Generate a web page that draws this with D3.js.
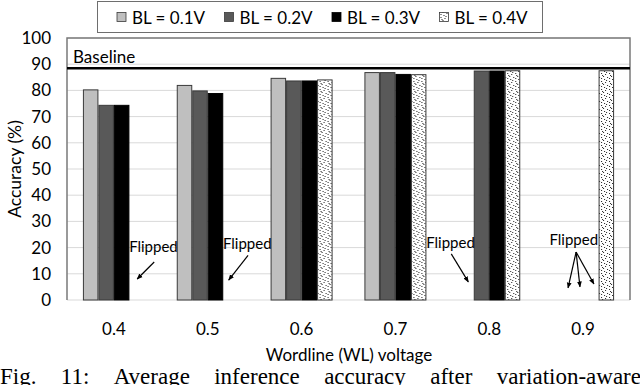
<!DOCTYPE html>
<html>
<head>
<meta charset="utf-8">
<script src="https://cdn.jsdelivr.net/npm/d3@7"></script>
<style>
  body { margin: 0; background: #fff; }
  svg { display: block; }
  text { font-family: Lato, "Noto Sans", sans-serif; fill: #000; }
</style>
</head>
<body>
<svg id="chart" width="640" height="385"></svg>
<script>
// data
var categories = ["0.4", "0.5", "0.6", "0.7", "0.8", "0.9"];
var seriesNames = ["BL = 0.1V", "BL = 0.2V", "BL = 0.3V", "BL = 0.4V"];
// null = flipped (no bar)
var bl01 = [80.2, 81.9, 84.6, 86.8, null, null];
var bl02 = [74.3, 79.8, 83.6, 86.8, 87.4, null];
var bl03 = [74.3, 78.8, 83.6, 86.1, 87.4, null];
var bl04 = [null, null, 84.0, 86.0, 87.5, 87.5];
var yTicks = [0, 10, 20, 30, 40, 50, 60, 70, 80, 90, 100];
var baselineValue = 88.5;

// "Flipped" notes: offsets are in bar widths from the group centre, y in %
var notes = [
  { cat: "0.4", tx: 2.55, ty: 20.2, arrows: [[2.6, 14.5, 1.5, 8.0]] },
  { cat: "0.5", tx: 2.55, ty: 21.4, arrows: [[2.6, 17.0, 1.35, 7.6]] },
  { cat: "0.8", tx: -2.5, ty: 21.8, arrows: [[-2.45, 17.6, -1.35, 6.9]] },
  { cat: "0.9", tx: -0.6, ty: 22.9, arrows: [[-0.45, 18.3, -0.97, 4.6], [-0.45, 18.3, -0.2, 5.0], [-0.45, 18.3, 0.7, 6.1]] }
];

var seriesValues = [bl01, bl02, bl03, bl04];
var fills = ["#bfbfbf", "#595959", "#000000", "url(#dots)"];
var strokes = ["#3a3a3a", "#3a3a3a", "#000000", "#3a3a3a"];

var svg = d3.select("#chart");
var pLeft = 67, pRight = 630, pTop = 38, pBottom = 300;

// dotted pattern for BL = 0.4V
var defs = svg.append("defs");
var pat = defs.append("pattern")
    .attr("id", "dots")
    .attr("patternUnits", "userSpaceOnUse")
    .attr("width", 8).attr("height", 8);
pat.append("rect").attr("width", 8).attr("height", 8).attr("fill", "#fff");
[[1,1],[5,2],[3,4],[7,5],[1,6],[4,7],[6,0],[2,3]].forEach(function(p){
  pat.append("rect").attr("x", p[0]).attr("y", p[1]).attr("width", 1).attr("height", 1).attr("fill", "#222");
});
defs.append("marker")
    .attr("id", "arrow")
    .attr("viewBox", "0 0 10 10")
    .attr("refX", 9).attr("refY", 5)
    .attr("markerWidth", 5).attr("markerHeight", 5)
    .attr("orient", "auto")
  .append("path").attr("d", "M0,1 L10,5 L0,9 z").attr("fill", "#000");

var x0 = d3.scaleBand().domain(categories).range([pLeft, pRight]).padding(0);
var groupW = 62;
var x1 = d3.scaleBand().domain(d3.range(seriesNames.length)).range([0, groupW]);
var y = d3.scaleLinear().domain([0, 100]).range([pBottom, pTop]);

// gridlines
svg.append("g").selectAll("line")
  .data(yTicks)
  .join("line")
    .attr("x1", pLeft).attr("x2", pRight)
    .attr("y1", d => y(d)).attr("y2", d => y(d))
    .attr("stroke", "#d9d9d9").attr("stroke-width", 1);

// bars
var groups = svg.append("g").selectAll("g")
  .data(categories)
  .join("g")
    .attr("transform", d => "translate(" + (x0(d) + (x0.bandwidth() - groupW) / 2) + ",0)");

groups.selectAll("rect")
  .data((c, ci) => seriesValues.map((s, si) => ({ si: si, v: s[ci] })).filter(d => d.v != null))
  .join("rect")
    .attr("x", d => x1(d.si) + 0.5)
    .attr("width", x1.bandwidth() - 1)
    .attr("y", d => y(d.v))
    .attr("height", d => y(0) - y(d.v))
    .attr("fill", d => fills[d.si])
    .attr("stroke", d => strokes[d.si])
    .attr("stroke-width", 1);

// plot frame (left, top, right)
svg.append("path")
  .attr("d", "M" + pLeft + "," + y(0) + "V" + y(100) + "H" + pRight + "V" + y(0))
  .attr("fill", "none").attr("stroke", "#7a7a7a").attr("stroke-width", 1.5);

// baseline
svg.append("line")
  .attr("x1", pLeft).attr("x2", pRight)
  .attr("y1", y(baselineValue)).attr("y2", y(baselineValue))
  .attr("stroke", "#000").attr("stroke-width", 2.5);
svg.append("text")
  .attr("x", pLeft + 6).attr("y", y(baselineValue) - 5)
  .style("font-size", "17px")
  .text("Baseline");

// y axis
var yAxis = d3.axisLeft(y).tickValues(yTicks).tickSize(0).tickPadding(16);
var ya = svg.append("g").attr("transform", "translate(" + pLeft + ",0)").call(yAxis);
ya.select(".domain").remove();
ya.selectAll("text").style("font-size", "17px").style("font-family", "Lato, 'Noto Sans', sans-serif");

// x axis
var xAxis = d3.axisBottom(x0).tickSize(0).tickPadding(23);
var xa = svg.append("g").attr("transform", "translate(0," + pBottom + ")").call(xAxis);
xa.select(".domain").remove();
xa.selectAll("text").style("font-size", "17px").style("font-family", "Lato, 'Noto Sans', sans-serif");

svg.append("text")
  .attr("x", 349).attr("y", 361)
  .attr("text-anchor", "middle")
  .style("font-size", "17px")
  .text("Wordline (WL) voltage");

svg.append("text")
  .attr("transform", "translate(21," + ((pTop + pBottom) / 2) + ") rotate(-90)")
  .attr("text-anchor", "middle")
  .style("font-size", "17.5px")
  .text("Accuracy (%)");

// "Flipped" annotations
var bw = x1.bandwidth();
notes.forEach(function(n){
  var cx = x0(n.cat) + x0.bandwidth() / 2;
  svg.append("text")
    .attr("x", cx + n.tx * bw).attr("y", y(n.ty) + 5)
    .attr("text-anchor", "middle")
    .style("font-size", "15px")
    .text("Flipped");
  n.arrows.forEach(function(a){
    svg.append("line")
      .attr("x1", cx + a[0] * bw).attr("y1", y(a[1]))
      .attr("x2", cx + a[2] * bw).attr("y2", y(a[3]))
      .attr("stroke", "#000").attr("stroke-width", 1.2)
      .attr("marker-end", "url(#arrow)");
  });
});

// legend
var legend = svg.append("g");
legend.append("rect")
  .attr("x", 97.5).attr("y", 1.5).attr("width", 445).attr("height", 31)
  .attr("fill", "#fff").attr("stroke", "#6e6e6e").attr("stroke-width", 1);
var items = legend.selectAll("g.item").data(seriesNames).join("g").attr("class", "item");
items.append("rect")
  .attr("width", 9).attr("height", 9).attr("y", 12.5)
  .attr("fill", (d, i) => fills[i]).attr("stroke", (d, i) => strokes[i]).attr("stroke-width", 0.8);
items.append("text")
  .attr("x", 15).attr("y", 23.5)
  .style("font-size", "17px")
  .text(d => d);
var widths = [];
items.each(function(){ widths.push(this.getBBox().width); });
var legStart = 117, legEnd = 528;
var gap = (legEnd - legStart - d3.sum(widths)) / (widths.length - 1);
var cur = legStart;
items.attr("transform", function(d, i){ var t = "translate(" + cur + ",0)"; cur += widths[i] + gap; return t; });

// caption (cut off at the bottom edge, as in the picture)
var words = ["Fig.", "11:", "Average", "inference", "accuracy", "after", "variation-aware"];
var cap = svg.append("g");
var wnodes = cap.selectAll("text").data(words).join("text")
  .attr("y", 384)
  .style("font-family", "'Liberation Serif', 'DejaVu Serif', serif")
  .style("font-size", "23px")
  .text(d => d);
var ww = [];
wnodes.each(function(){ ww.push(this.getComputedTextLength()); });
var spacing = (641 - d3.sum(ww)) / (words.length - 1);
var px = 0;
wnodes.attr("x", function(d, i){ var v = px; px += ww[i] + spacing; return v; });
</script>
</body>
</html>
